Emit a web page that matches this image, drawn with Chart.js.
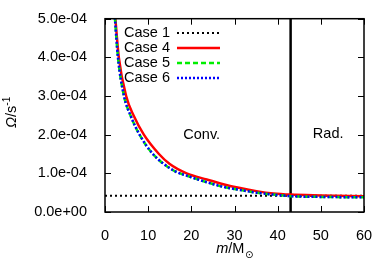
<!DOCTYPE html>
<html lang="en">
<head>
    <meta charset="UTF-8">
    <title>Omega vs mass</title>
    <script src="https://cdn.jsdelivr.net/npm/chart.js"></script>
    <style>
        body { margin: 0; padding: 0; background: #fff; }
        .chart-box { width: 390px; height: 273px; position: relative; }
    </style>
</head>
<body>
    <div class="chart-box">
        <canvas id="omegaChart"></canvas>
    </div>

    <script>
        // Datos (m en masas solares, Omega en s^-1)
        const case1Mass = [0, 60];
        const case1Omega = [4.2e-5, 4.2e-5];

        const case4Mass = [2.4, 3.2, 4.9, 6.6, 9.0, 12.5, 15.0, 18.9, 23.6, 27.4, 31.3, 35.1, 39, 43, 50, 60];
        const case4Omega = [5.0e-4, 4.0e-4, 3.0e-4, 2.5e-4, 2.0e-4, 1.5e-4, 1.24e-4, 1.0e-4, 0.84e-4, 0.72e-4, 0.62e-4, 0.54e-4, 0.48e-4, 0.45e-4, 0.43e-4, 0.41e-4];

        const case5Mass = [2.3, 3.0, 4.4, 5.9, 8.0, 11.1, 15.8, 19.7, 23.6, 27.4, 31.3, 35.1, 39, 43, 50, 60];
        const case5Omega = [5.0e-4, 4.0e-4, 3.0e-4, 2.5e-4, 2.0e-4, 1.5e-4, 1.08e-4, 0.91e-4, 0.77e-4, 0.65e-4, 0.57e-4, 0.50e-4, 0.45e-4, 0.41e-4, 0.39e-4, 0.38e-4];

        const case6Mass = [2.3, 3.0, 4.4, 5.9, 8.0, 11.1, 15.8, 19.7, 23.6, 27.4, 31.3, 35.1, 39, 43, 50, 60];
        const case6Omega = [5.0e-4, 4.0e-4, 3.0e-4, 2.5e-4, 2.0e-4, 1.5e-4, 1.08e-4, 0.91e-4, 0.77e-4, 0.65e-4, 0.57e-4, 0.50e-4, 0.45e-4, 0.41e-4, 0.39e-4, 0.38e-4];

        // Límite convectivo / radiativo
        const boundaryMass = [43, 43];
        const boundaryOmega = [0, 5e-4];

        const zoneLabels = ['Conv.', 'Rad.'];
        const zoneMass = [22.4, 51.7];
        const zoneOmega = [2.0e-4, 2.03e-4];

        const FONT = '"Liberation Sans", Arial, sans-serif';
        const FSIZE = 14.5;

        function pts(xs, ys) {
            return xs.map((x, i) => ({ x: x, y: ys[i] }));
        }

        function sci(v) {
            if (Math.abs(v) < 1e-12) return '0.0e+00';
            const e = Math.floor(Math.log10(Math.abs(v)) + 1e-9);
            const m = v / Math.pow(10, e);
            return m.toFixed(1) + 'e' + (e < 0 ? '-' : '+') + String(Math.abs(e)).padStart(2, '0');
        }

        // Marco con marcas hacia dentro en los cuatro lados (estilo gnuplot)
        const framePlugin = {
            id: 'frame',
            afterDraw(chart) {
                const ctx = chart.ctx;
                const a = chart.chartArea;
                const xs = chart.scales.x, ys = chart.scales.y;
                const tl = 6;
                ctx.save();
                ctx.strokeStyle = '#000';
                ctx.lineWidth = 1.5;
                ctx.strokeRect(a.left, a.top, a.right - a.left, a.bottom - a.top);
                ctx.lineWidth = 1;
                ctx.beginPath();
                xs.ticks.forEach(t => {
                    const px = Math.round(xs.getPixelForValue(t.value)) + 0.5;
                    ctx.moveTo(px, a.bottom); ctx.lineTo(px, a.bottom - tl);
                    ctx.moveTo(px, a.top); ctx.lineTo(px, a.top + tl);
                });
                ys.ticks.forEach(t => {
                    const py = Math.round(ys.getPixelForValue(t.value)) + 0.5;
                    ctx.moveTo(a.left, py); ctx.lineTo(a.left + tl, py);
                    ctx.moveTo(a.right, py); ctx.lineTo(a.right - tl, py);
                });
                ctx.stroke();

                // Título eje x: m/M_sun
                ctx.fillStyle = '#000';
                ctx.textBaseline = 'alphabetic';
                ctx.textAlign = 'left';
                const fi = 'italic ' + FSIZE + 'px ' + FONT;
                const fn = FSIZE + 'px ' + FONT;
                const fs = '10px "DejaVu Sans", sans-serif';
                ctx.font = fi; const w1 = ctx.measureText('m').width;
                ctx.font = fn; const w2 = ctx.measureText('/M').width;
                ctx.font = fs; const w3 = ctx.measureText('\u2299').width;
                let x0 = (a.left + a.right) / 2 - (w1 + w2 + w3) / 2;
                const by = 253;
                ctx.font = fi; ctx.fillText('m', x0, by);
                ctx.font = fn; ctx.fillText('/M', x0 + w1, by);
                ctx.font = fs; ctx.fillText('\u2299', x0 + w1 + w2 + 0.5, by + 5);

                // Título eje y: Omega/s^-1
                ctx.save();
                ctx.translate(16, (a.top + a.bottom) / 2 - 3);
                ctx.rotate(-Math.PI / 2);
                ctx.font = fi; const v1 = ctx.measureText('\u03A9').width;
                ctx.font = fn; const v2 = ctx.measureText('/s').width;
                ctx.font = '10px ' + FONT; const v3 = ctx.measureText('-1').width;
                let s0 = -(v1 + v2 + v3) / 2;
                ctx.font = fi; ctx.fillText('\u03A9', s0, 0);
                ctx.font = fn; ctx.fillText('/s', s0 + v1, 0);
                ctx.font = '10px ' + FONT; ctx.fillText('-1', s0 + v1 + v2, -6);
                ctx.restore();
                ctx.restore();
            },
            afterDatasetsDraw(chart) {
                const ctx = chart.ctx;
                const xs = chart.scales.x, ys = chart.scales.y;
                ctx.save();
                ctx.fillStyle = '#000';
                ctx.font = FSIZE + 'px ' + FONT;
                ctx.textBaseline = 'middle';
                ctx.textAlign = 'center';
                zoneLabels.forEach((lab, i) => {
                    ctx.fillText(lab, xs.getPixelForValue(zoneMass[i]), ys.getPixelForValue(zoneOmega[i]));
                });

                // Leyenda: texto a la derecha alineado, luego muestra de línea
                ctx.textAlign = 'right';
                let row = 0;
                chart.data.datasets.forEach(ds => {
                    if (!ds.label) return;
                    const y = 33 + row * 15;
                    ctx.fillStyle = '#000';
                    ctx.fillText(ds.label, 170, y);
                    ctx.beginPath();
                    ctx.strokeStyle = ds.borderColor;
                    ctx.lineWidth = ds.borderWidth;
                    ctx.setLineDash(ds.borderDash || []);
                    ctx.moveTo(177, y);
                    ctx.lineTo(220, y);
                    ctx.stroke();
                    ctx.setLineDash([]);
                    row++;
                });
                ctx.restore();
            }
        };

        const ctxOmega = document.getElementById('omegaChart').getContext('2d');

        const omegaChart = new Chart(ctxOmega, {
            type: 'line',
            data: {
                datasets: [
                    {
                        label: 'Case 1',
                        data: pts(case1Mass, case1Omega),
                        borderColor: '#000',
                        borderWidth: 2,
                        borderDash: [2, 3],
                        order: 5
                    },
                    {
                        label: 'Case 4',
                        data: pts(case4Mass, case4Omega),
                        borderColor: '#ff0000',
                        borderWidth: 2.5,
                        order: 4
                    },
                    {
                        label: 'Case 5',
                        data: pts(case5Mass, case5Omega),
                        borderColor: '#00ee00',
                        borderWidth: 2.5,
                        borderDash: [5, 3],
                        order: 3
                    },
                    {
                        label: 'Case 6',
                        data: pts(case6Mass, case6Omega),
                        borderColor: '#0000ff',
                        borderWidth: 2.5,
                        borderDash: [2, 2],
                        borderDashOffset: 1,
                        order: 2
                    },
                    {
                        label: '',
                        data: pts(boundaryMass, boundaryOmega),
                        borderColor: '#000',
                        borderWidth: 2.5,
                        order: 6
                    }
                ]
            },
            options: {
                responsive: true,
                maintainAspectRatio: false,
                animation: false,
                devicePixelRatio: 1,
                layout: { padding: { top: 17, right: 26, left: 0, bottom: 0 } },
                elements: {
                    point: { radius: 0 },
                    line: { cubicInterpolationMode: 'monotone', fill: false }
                },
                plugins: {
                    legend: { display: false },
                    tooltip: { enabled: false }
                },
                scales: {
                    x: {
                        type: 'linear',
                        min: 0,
                        max: 60,
                        grid: { display: false },
                        border: { display: false },
                        ticks: {
                            stepSize: 10,
                            padding: 7,
                            color: '#000',
                            maxRotation: 0,
                            font: { family: FONT, size: FSIZE }
                        },
                        afterFit: s => { s.height = 61; }
                    },
                    y: {
                        min: 0,
                        max: 5e-4,
                        grid: { display: false },
                        border: { display: false },
                        ticks: {
                            stepSize: 1e-4,
                            padding: 10,
                            color: '#000',
                            font: { family: FONT, size: FSIZE },
                            callback: v => sci(v)
                        },
                        afterFit: s => { s.width = 105; }
                    }
                }
            },
            plugins: [framePlugin]
        });
    </script>
</body>
</html>
